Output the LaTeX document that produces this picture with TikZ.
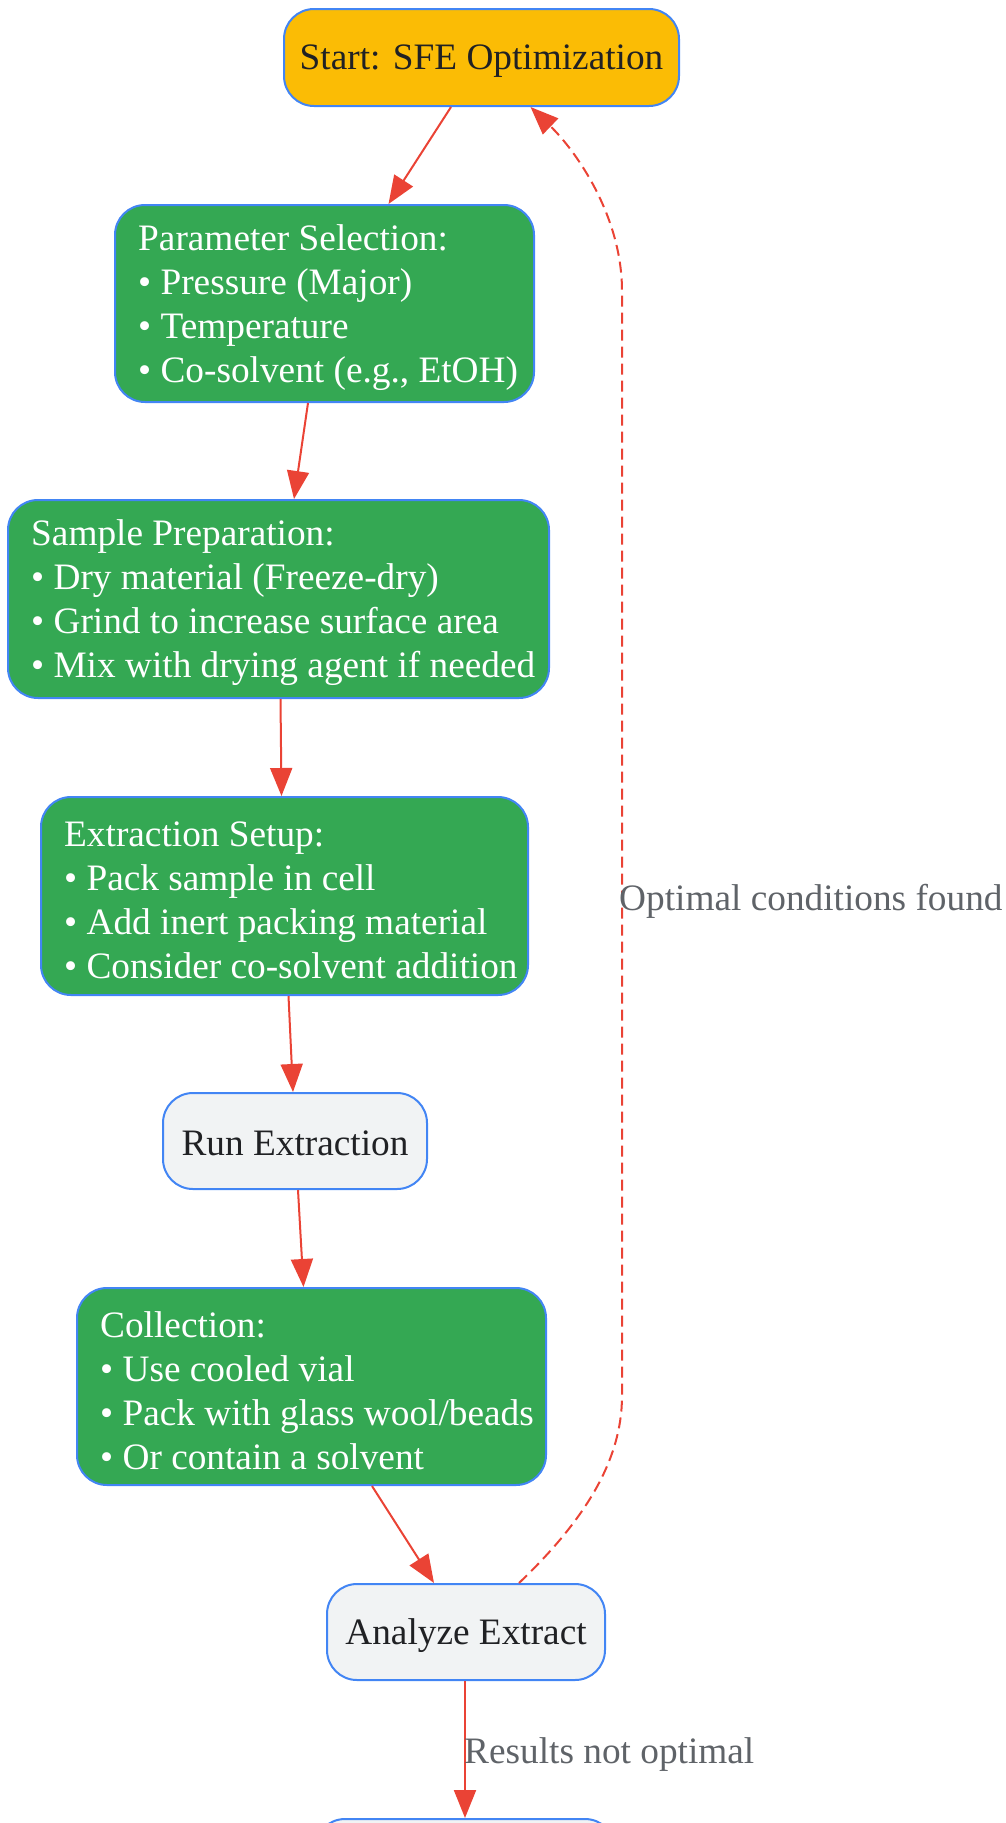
\documentclass[tikz,border=0pt]{standalone}
\usepackage{fontspec}
\setmainfont{Liberation Serif}
\usetikzlibrary{arrows.meta,calc}
\definecolor{gfill}{HTML}{34A853}
\definecolor{yfill}{HTML}{FBBC05}
\definecolor{lgray}{HTML}{F1F3F4}
\definecolor{bblue}{HTML}{4285F4}
\definecolor{ared}{HTML}{EA4335}
\definecolor{dtext}{HTML}{202124}
\definecolor{ltext}{HTML}{5F6368}
\newcommand\fsz{\fontsize{37.3}{44}\selectfont}
\tikzset{
  box/.style={draw=bblue, line width=2pt, rounded corners=30pt, inner sep=0pt},
  greenbox/.style={box, fill=gfill},
  graybox/.style={box, fill=lgray},
  startbox/.style={box, fill=yfill},
  btext/.style={text=white, align=left, inner sep=0pt, anchor=west, font=\fsz},
  dtextnode/.style={text=dtext, inner sep=0pt, font=\fsz},
  flow/.style={draw=ared, line width=2pt, -{Triangle[length=28pt,width=22pt]}},
  loopflow/.style={flow, dash pattern=on 11pt off 6pt},
  elabel/.style={text=ltext, font=\fsz, inner sep=0pt, anchor=west}
}
\begin{document}
\begin{tikzpicture}[x=1pt,y=-1pt]
\useasboundingbox (0,0) rectangle (1005,1823);
\clip (0,0) rectangle (1005,1823);

\node[startbox, minimum width=395pt, minimum height=97pt] (start) at (481.5,57.5) {};
\node[dtextnode] (startT) at ([yshift=-4pt]start.center) {Start: SFE Optimization};

\node[greenbox, minimum width=419pt, minimum height=197pt] (param) at (324.5,303.5) {};
\node[btext] (paramT) at ([xshift=24pt,yshift=-4pt]param.west) {Parameter Selection:\\• Pressure (Major)\\• Temperature\\• Co-solvent (e.g., EtOH)};

\node[greenbox, minimum width=541pt, minimum height=198pt] (prep) at (278.5,599) {};
\node[btext] (prepT) at ([xshift=24pt,yshift=-4pt]prep.west) {Sample Preparation:\\• Dry material (Freeze-dry)\\• Grind to increase surface area\\• Mix with drying agent if needed};

\node[greenbox, minimum width=487pt, minimum height=198pt] (setup) at (284.5,896) {};
\node[btext] (setupT) at ([xshift=24pt,yshift=-4pt]setup.west) {Extraction Setup:\\• Pack sample in cell\\• Add inert packing material\\• Consider co-solvent addition};

\node[graybox, minimum width=264pt, minimum height=96pt] (run) at (295,1141) {};
\node[dtextnode] (runT) at ([yshift=-2pt]run.center) {Run Extraction};

\node[greenbox, minimum width=469pt, minimum height=197pt] (coll) at (311.5,1386.5) {};
\node[btext] (collT) at ([xshift=24pt,yshift=-4pt]coll.west) {Collection:\\• Use cooled vial\\• Pack with glass wool/beads\\• Or contain a solvent};

\node[graybox, minimum width=278pt, minimum height=96pt] (analyze) at (466,1632) {};
\node[dtextnode] (analyzeT) at ([yshift=-4pt]analyze.center) {Analyze Extract};

\node[graybox, minimum width=300pt, minimum height=96pt] (next) at (465,1867) {};

\draw[flow] ([xshift=-30.5pt]start.south) -- ([xshift=64pt]param.north);
\draw[flow] ([xshift=-16.5pt]param.south) -- ([xshift=15.5pt]prep.north);
\draw[flow] ([xshift=2pt]prep.south) -- ([xshift=-3pt]setup.north);
\draw[flow] ([xshift=4pt]setup.south) -- ([xshift=-2pt]run.north);
\draw[flow] ([xshift=3pt]run.south) -- ([xshift=-8pt]coll.north);
\draw[flow] ([xshift=60.5pt]coll.south) -- ([xshift=-32pt]analyze.north);
\draw[flow] ([xshift=-1pt]analyze.south) -- (next.north);

\coordinate (r1) at (622,1396);
\coordinate (r2) at (622,291);
\draw[loopflow] ([xshift=53pt]analyze.north) .. controls (585,1520) and (622,1460) .. (r1) -- (r2) .. controls (622,215) and (575,150) .. ([xshift=49pt]start.south);

\node[elabel] (optlbl) at (619,901) {Optimal conditions found};
\node[elabel] (notlbl) at (464,1755) {Results not optimal};
\end{tikzpicture}
\end{document}
